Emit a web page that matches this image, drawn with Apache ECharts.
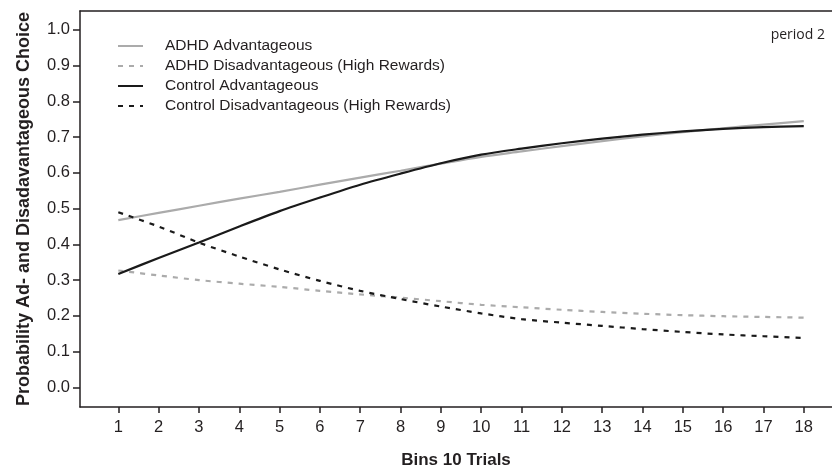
<!DOCTYPE html>
<html>
<head>
<meta charset="utf-8">
<script src="https://cdn.jsdelivr.net/npm/echarts@6/dist/echarts.min.js"></script>
<style>
html,body{margin:0;padding:0;background:#fff;}
#chart{width:832px;height:474px;}
</style>
</head>
<body>
<div id="chart"></div>
<script>
// ---- data ----
const bins = [1,2,3,4,5,6,7,8,9,10,11,12,13,14,15,16,17,18];
const yTicks = [0.0,0.1,0.2,0.3,0.4,0.5,0.6,0.7,0.8,0.9,1.0];
const seriesNames = [
  'ADHD Advantageous',
  'ADHD Disadvantageous (High Rewards)',
  'Control Advantageous',
  'Control Disadvantageous (High Rewards)'
];
const adhdAdv     = [0.468,0.488,0.508,0.528,0.547,0.567,0.587,0.606,0.626,0.645,0.660,0.675,0.689,0.702,0.714,0.725,0.735,0.745];
const adhdDisadv  = [0.327,0.313,0.300,0.290,0.281,0.270,0.260,0.251,0.241,0.231,0.224,0.217,0.211,0.206,0.202,0.199,0.197,0.195];
const ctrlAdv     = [0.317,0.362,0.405,0.450,0.493,0.531,0.567,0.598,0.627,0.651,0.668,0.683,0.696,0.707,0.716,0.723,0.728,0.731];
const ctrlDisadv  = [0.490,0.450,0.405,0.366,0.330,0.298,0.270,0.247,0.226,0.207,0.191,0.181,0.172,0.163,0.155,0.148,0.143,0.138];
const periodLabel = 'period 2';
const xTitle = 'Bins 10 Trials';
const yTitle = 'Probability Ad- and Disadavantageous Choice';

const pairs = arr => bins.map((b, i) => [b, arr[i]]);
const ink = '#231f20';
const grayC = '#ababab';
const blackC = '#1a1a1a';
const font = 'Liberation Sans, Arial, Helvetica, sans-serif';

const chart = echarts.init(document.getElementById('chart'), null, {renderer: 'canvas'});
const axisLineStyle = {color: ink, width: 1.5};

chart.setOption({
  animation: false,
  backgroundColor: '#fff',
  textStyle: {fontFamily: font},
  title: {
    text: periodLabel,
    right: 2, top: 23,
    textStyle: {fontFamily: 'Open Sans, sans-serif', fontSize: 14, fontWeight: 'normal', color: ink}
  },
  legend: {
    orient: 'vertical',
    left: 112, top: 33,
    itemWidth: 25, itemHeight: 14, itemGap: 4,
    data: seriesNames,
    itemStyle: {opacity: 0},
    textStyle: {fontFamily: font, fontSize: 15.5, color: ink, lineHeight: 14, padding: [0,0,0,17]}
  },
  grid: {left: 80, right: 0, top: 11, bottom: 61, containLabel: false},
  xAxis: [{
    type: 'value',
    min: 0.05, max: 18.7,
    axisLine: {show: true, onZero: false, lineStyle: axisLineStyle},
    axisTick: {show: true, length: 6, customValues: bins, lineStyle: axisLineStyle},
    axisLabel: {customValues: bins, fontSize: 16.5, margin: 12, color: ink, fontFamily: font},
    splitLine: {show: false},
    name: xTitle, nameLocation: 'middle', nameGap: 45,
    nameTextStyle: {fontFamily: font, fontSize: 17, fontWeight: 'bold', color: ink}
  }, {
    type: 'value', position: 'top',
    min: 0.05, max: 18.7,
    axisLine: {show: true, onZero: false, lineStyle: axisLineStyle},
    axisTick: {show: false}, axisLabel: {show: false}, splitLine: {show: false}
  }],
  yAxis: {
    type: 'value',
    min: -0.055, max: 1.053,
    axisLine: {show: true, onZero: false, lineStyle: axisLineStyle},
    axisTick: {show: true, length: 7, customValues: yTicks, lineStyle: axisLineStyle},
    axisLabel: {customValues: yTicks, fontSize: 16.5, margin: 10, color: ink, fontFamily: font,
      formatter: v => Number(v).toFixed(1)},
    splitLine: {show: false},
    name: yTitle, nameLocation: 'middle', nameGap: 47, nameRotate: 90,
    nameTextStyle: {fontFamily: font, fontSize: 18, fontWeight: 'bold', color: ink}
  },
  series: [
    {name: seriesNames[0], type: 'line', data: pairs(adhdAdv), smooth: 0.3, symbol: 'none',
      lineStyle: {color: grayC, width: 2.2, type: 'solid'}, itemStyle: {color: grayC}},
    {name: seriesNames[1], type: 'line', data: pairs(adhdDisadv), smooth: 0.3, symbol: 'none',
      lineStyle: {color: grayC, width: 2.2, type: [5, 6]}, itemStyle: {color: grayC}},
    {name: seriesNames[2], type: 'line', data: pairs(ctrlAdv), smooth: 0.3, symbol: 'none',
      lineStyle: {color: blackC, width: 2.2, type: 'solid'}, itemStyle: {color: blackC}},
    {name: seriesNames[3], type: 'line', data: pairs(ctrlDisadv), smooth: 0.3, symbol: 'none',
      lineStyle: {color: blackC, width: 2.2, type: [5, 6]}, itemStyle: {color: blackC}}
  ]
});
</script>
</body>
</html>
